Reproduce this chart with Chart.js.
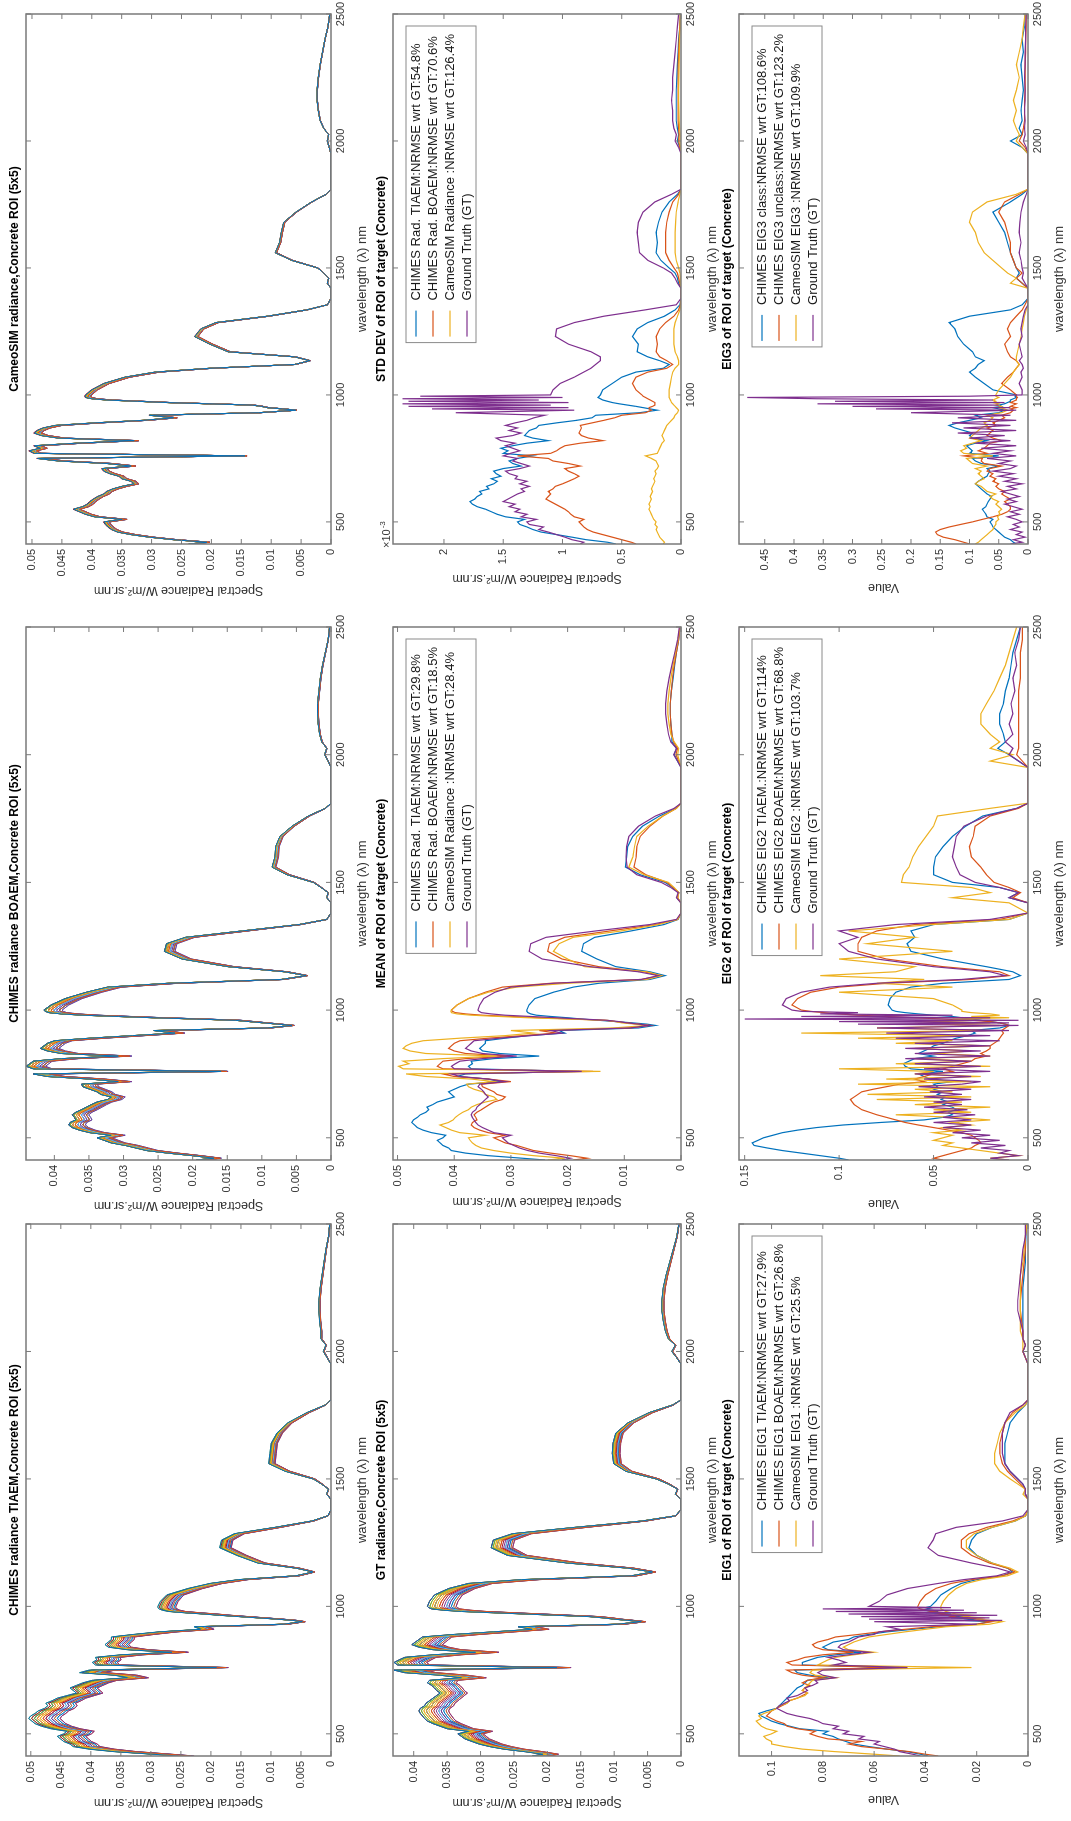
<!DOCTYPE html>
<html>
<head>
<meta charset="utf-8">
<title>Concrete ROI spectra</title>
<script src="https://cdn.jsdelivr.net/npm/chart.js@4.4.1/dist/chart.umd.min.js"></script>
<style>
  html, body { margin: 0; padding: 0; background: #fff; overflow: hidden; }
  /* the figure is laid out landscape and then turned a quarter turn */
  #figure { position: absolute; left: 0; top: 0; width: 1821px; height: 1071px;
            transform-origin: 0 0; transform: translate(0, 1821px) rotate(-90deg); background: #fff; }
  #figure canvas { position: absolute; }
</style>
</head>
<body>
<div id="figure"></div>
<script>
/* wavelength grid (nm) */
const wl = [
  413, 420, 430, 440, 450, 460, 470, 480, 490, 500,
  510, 520, 530, 540, 550, 560, 570, 580, 590, 600,
  610, 620, 630, 640, 650, 660, 670, 680, 690, 700,
  710, 720, 730, 740, 750, 760, 770, 780, 790, 800,
  810, 820, 830, 840, 850, 860, 870, 880, 890, 900,
  910, 920, 930, 940, 945, 950, 955, 960, 965, 970,
  975, 980, 985, 990, 995, 1000, 1020, 1045, 1070, 1090,
  1105, 1120, 1135, 1150, 1170, 1200, 1230, 1260, 1285, 1310,
  1335, 1355, 1380, 1420, 1440, 1460, 1480, 1500, 1530, 1560,
  1600, 1640, 1680, 1720, 1760, 1790, 1810, 1850, 1900, 1950,
  1975, 2000, 2025, 2050, 2080, 2120, 2160, 2200, 2250, 2300,
  2350, 2400, 2450, 2500
];
const wlTicks = [500, 1000, 1500, 2000, 2500];

/* MEAN of ROI (W/m2.sr.nm) */
const meanTiaem = [
  .0240,.0280,.0340,.0380,.0405,.0410,.0420,.0425,.0430,.0420,
  .0415,.0440,.0455,.0465,.0470,.0475,.0472,.0465,.0460,.0450,
  .0445,.0448,.0438,.0430,.0415,.0400,.0405,.0410,.0400,.0390,
  .0375,.0320,.0340,.0395,.0380,.0180,.0370,.0375,.0368,.0370,
  .0330,.0250,.0320,.0350,.0355,.0350,.0345,.0345,.0310,.0270,
  .0205,.0215,.0075,.0045,.0060,.0085,.0115,.0145,.0175,.0200,
  .0230,.0255,.0265,.0270,.0272,.0272,.0268,.0258,.0225,.0190,
  .0145,.0055,.0028,.0055,.0115,.0148,.0175,.0172,.0152,.0088,
  .0030,.0005,0,0,.0007,.0004,.0015,.0028,.0072,.0098,
  .0096,.0094,.0085,.0068,.0038,.0009,0,0,0,0,
  .0006,.0012,.0008,.0016,.0016,.0018,.0019,.0019,.0017,.0014,
  .0011,.0008,.0004,.0002
];
const meanBoaem = [
  .0190,.0165,.0195,.0230,.0260,.0275,.0290,.0310,.0320,.0330,
  .0310,.0340,.0355,.0365,.0370,.0368,.0360,.0362,.0365,.0360,
  .0352,.0345,.0338,.0330,.0315,.0310,.0325,.0330,.0340,.0350,
  .0352,.0300,.0340,.0400,.0420,.0155,.0420,.0430,.0425,.0420,
  .0380,.0300,.0380,.0400,.0410,.0405,.0400,.0390,.0340,.0280,
  .0220,.0250,.0090,.0055,.0075,.0095,.0115,.0135,.0190,.0250,
  .0300,.0350,.0380,.0398,.0403,.0405,.0395,.0375,.0345,.0315,
  .0230,.0070,.0035,.0065,.0145,.0210,.0235,.0232,.0205,.0125,
  .0045,.0006,0,0,.0006,.0004,.0014,.0025,.0062,.0083,
  .0079,.0078,.0072,.0055,.0032,.0008,0,0,0,0,
  .0004,.0009,.0006,.0013,.0016,.0018,.0019,.0019,.0017,.0015,
  .0012,.0008,.0004,.0002
];
const meanCameo = [
  .0235,.0205,.0260,.0300,.0330,.0352,.0362,.0368,.0372,.0375,
  .0345,.0390,.0405,.0415,.0425,.0410,.0402,.0398,.0392,.0385,
  .0375,.0370,.0360,.0345,.0325,.0330,.0345,.0350,.0365,.0375,
  .0378,.0330,.0370,.0450,.0485,.0142,.0490,.0498,.0480,.0490,
  .0420,.0325,.0450,.0478,.0490,.0485,.0475,.0455,.0390,.0310,
  .0260,.0300,.0120,.0058,.0080,.0105,.0115,.0130,.0200,.0270,
  .0320,.0370,.0395,.0405,.0406,.0405,.0395,.0375,.0340,.0290,
  .0200,.0060,.0035,.0060,.0170,.0200,.0225,.0215,.0190,.0105,
  .0040,.0006,0,0,.0006,.0004,.0012,.0022,.0065,.0092,
  .0085,.0082,.0078,.0058,.0032,.0008,0,0,0,0,
  .0003,.0006,.0004,.0012,.0018,.0021,.0023,.0023,.0021,.0018,
  .0014,.0010,.0005,.0002
];
const meanGt = [
  .0210,.0195,.0220,.0250,.0270,.0285,.0295,.0305,.0310,.0315,
  .0300,.0330,.0340,.0350,.0358,.0362,.0365,.0368,.0370,.0368,
  .0362,.0360,.0355,.0350,.0345,.0340,.0345,.0348,.0352,.0358,
  .0355,.0310,.0340,.0390,.0405,.0175,.0400,.0405,.0398,.0390,
  .0350,.0290,.0350,.0370,.0380,.0375,.0370,.0365,.0320,.0265,
  .0210,.0230,.0090,.0056,.0075,.0095,.0110,.0130,.0175,.0220,
  .0265,.0310,.0335,.0352,.0356,.0358,.0355,.0348,.0328,.0300,
  .0225,.0070,.0040,.0075,.0160,.0245,.0268,.0265,.0238,.0150,
  .0055,.0008,0,0,.0008,.0005,.0018,.0035,.0078,.0095,
  .0097,.0096,.0092,.0075,.0045,.0012,0,0,0,0,
  .0006,.0013,.0008,.0018,.0022,.0025,.0027,.0027,.0025,.0021,
  .0016,.0011,.0006,.0003
];

/* STD DEV of ROI, in units of 1e-3 W/m2.sr.nm */
const stdTiaem = [
  .55,.62,.80,.92,1.05,1.18,1.25,1.30,1.36,1.38,
  1.32,1.48,1.55,1.60,1.65,1.72,1.76,1.78,1.74,1.72,
  1.68,1.70,1.62,1.64,1.58,1.55,1.60,1.52,1.56,1.58,
  1.50,1.35,1.42,1.45,1.38,1.25,1.50,1.46,1.52,1.42,
  1.30,1.12,1.25,1.32,1.30,1.28,1.22,1.20,1.05,.88,
  .75,.72,.35,.20,.26,.32,.38,.45,.52,.58,
  .62,.66,.68,.70,.69,.68,.66,.58,.50,.38,
  .15,.10,.18,.28,.37,.36,.41,.37,.28,.14,
  .05,.01,0,0,.02,.03,.05,.10,.17,.21,
  .20,.21,.19,.16,.10,.03,0,0,0,0,
  .01,.03,.02,.03,.04,.04,.04,.04,.035,.03,
  .025,.02,.01,.005
];
const stdBoaem = [
  .38,.42,.50,.58,.66,.74,.79,.82,.84,.86,
  .82,.90,.93,.95,.98,1.02,1.06,1.10,1.14,1.12,
  1.10,1.12,1.08,1.06,1.00,.95,.90,.86,.90,.95,
  .98,.85,.95,1.08,1.12,1.38,1.10,1.05,1.02,.98,
  .85,.66,.78,.84,.86,.85,.84,.85,.75,.65,
  .56,.50,.30,.25,.27,.27,.24,.22,.22,.22,
  .24,.26,.28,.30,.32,.33,.38,.41,.38,.28,
  .12,.07,.12,.18,.21,.20,.21,.18,.13,.06,
  .02,.005,0,0,.01,.02,.03,.06,.10,.13,
  .13,.13,.12,.10,.07,.02,0,0,0,0,
  .01,.02,.015,.02,.025,.025,.025,.025,.025,.025,
  .02,.015,.01,.005
];
const stdCameo = [
  .15,.14,.16,.18,.19,.20,.21,.20,.22,.21,
  .23,.24,.25,.26,.27,.26,.27,.26,.25,.26,
  .25,.24,.25,.24,.23,.22,.23,.22,.21,.22,
  .20,.19,.20,.21,.25,.30,.20,.19,.18,.17,
  .16,.14,.15,.16,.15,.14,.13,.12,.10,.08,
  .06,.05,.03,.02,.03,.04,.05,.06,.07,.08,
  .085,.09,.095,.10,.10,.10,.10,.09,.08,.07,
  .05,.02,.02,.03,.05,.06,.06,.06,.05,.03,
  .01,0,0,0,.005,.005,.01,.02,.04,.05,
  .05,.05,.045,.04,.025,.01,0,0,0,0,
  .005,.01,.008,.012,.015,.018,.02,.02,.018,.016,
  .014,.012,.008,.005
];
const stdGt = [
  .85,.82,.92,.98,1.05,1.12,1.20,1.16,1.28,1.30,
  1.22,1.35,1.30,1.40,1.36,1.45,1.40,1.50,1.46,1.42,
  1.38,1.32,1.35,1.28,1.36,1.30,1.40,1.38,1.45,1.48,
  1.36,1.28,1.35,1.42,1.38,1.50,1.44,1.36,1.42,1.48,
  1.40,1.52,1.56,1.42,1.35,1.45,1.38,1.48,1.40,1.30,
  1.24,1.15,1.90,.90,2.10,.95,2.30,1.10,2.35,.95,
  2.30,1.20,2.35,1.00,2.20,1.10,1.08,1.02,.90,.82,
  .76,.72,.68,.68,.76,.95,1.06,1.05,.90,.65,
  .30,.04,0,0,.03,.05,.08,.15,.28,.35,
  .36,.37,.36,.32,.22,.08,0,0,0,0,
  .02,.05,.04,.06,.07,.07,.08,.07,.07,.06,
  .05,.04,.03,.02
];

/* first eigenvector */
const eig1Tiaem = [
  .039,.042,.047,.055,.062,.068,.071,.074,.076,.080,
  .078,.089,.093,.097,.100,.102,.104,.105,.102,.098,
  .097,.096,.095,.094,.093,.092,.091,.090,.088,.087,
  .086,.078,.085,.090,.091,.050,.088,.088,.085,.082,
  .075,.065,.078,.080,.078,.076,.070,.068,.062,.055,
  .045,.035,.020,.015,.025,.020,.030,.025,.035,.030,
  .040,.035,.042,.038,.040,.038,.036,.034,.030,.026,
  .020,.010,.006,.008,.014,.020,.023,.022,.020,.014,
  .005,.001,0,0,.001,.001,.002,.004,.007,.009,
  .009,.009,.008,.007,.004,.001,0,0,0,0,
  .001,.002,.001,.002,.002,.002,.002,.002,.002,.0015,
  .001,.001,.0008,.0005
];
const eig1Boaem = [
  .035,.040,.046,.055,.065,.070,.065,.078,.082,.085,
  .083,.090,.094,.095,.098,.100,.102,.101,.100,.098,
  .096,.094,.093,.090,.088,.086,.088,.087,.085,.088,
  .086,.080,.088,.092,.094,.052,.092,.094,.090,.087,
  .080,.068,.080,.083,.084,.082,.078,.075,.066,.058,
  .048,.038,.020,.014,.020,.018,.025,.030,.028,.035,
  .032,.038,.040,.042,.043,.043,.042,.040,.036,.030,
  .022,.010,.005,.008,.015,.022,.026,.026,.023,.016,
  .006,.001,0,0,.001,.001,.003,.005,.008,.010,
  .011,.011,.010,.009,.006,.002,0,0,0,0,
  .001,.002,.001,.002,.002,.0025,.003,.003,.0025,.002,
  .0015,.001,.001,.0005
];
const eig1Cameo = [
  .050,.060,.075,.088,.095,.100,.100,.102,.103,.100,
  .098,.102,.104,.105,.106,.104,.105,.103,.100,.098,
  .097,.094,.093,.090,.087,.086,.088,.087,.086,.085,
  .084,.075,.083,.085,.084,.022,.082,.080,.078,.075,
  .068,.060,.070,.072,.070,.068,.065,.062,.055,.048,
  .040,.032,.015,.010,.015,.020,.018,.025,.022,.028,
  .030,.032,.033,.034,.034,.034,.033,.031,.028,.024,
  .018,.008,.004,.007,.014,.020,.024,.024,.021,.014,
  .005,.001,0,0,.002,.001,.004,.007,.011,.013,
  .013,.012,.011,.009,.005,.001,0,0,0,0,
  .001,.002,.002,.002,.003,.003,.003,.003,.003,.003,
  .002,.0015,.001,.0005
];
const eig1Gt = [
  .042,.045,.050,.052,.056,.060,.058,.066,.064,.072,
  .070,.076,.074,.080,.082,.085,.090,.094,.096,.098,
  .097,.095,.093,.094,.090,.088,.086,.087,.084,.082,
  .083,.075,.080,.082,.080,.047,.076,.071,.074,.078,
  .070,.062,.072,.074,.073,.070,.068,.066,.060,.058,
  .050,.055,.020,.060,.010,.062,.015,.065,.012,.070,
  .020,.075,.025,.080,.030,.062,.058,.055,.047,.035,
  .025,.012,.007,.012,.022,.035,.039,.037,.036,.028,
  .010,.002,0,0,.001,.001,.002,.004,.007,.009,
  .010,.010,.010,.009,.007,.002,0,0,0,0,
  .001,.002,.001,.002,.002,.003,.004,.004,.0035,.003,
  .0025,.002,.001,.001
];

/* second eigenvector */
const eig2Tiaem = [
  .095,.100,.110,.120,.130,.138,.145,.146,.143,.140,
  .135,.130,.122,.112,.098,.078,.055,.045,.040,.042,
  .038,.040,.045,.042,.046,.044,.048,.045,.050,.048,
  .050,.040,.052,.055,.058,.045,.062,.065,.066,.063,
  .060,.050,.058,.055,.052,.050,.045,.042,.038,.032,
  .028,.030,.015,.010,.012,.015,.020,.025,.030,.035,
  .040,.050,.058,.065,.070,.072,.074,.073,.070,.062,
  .045,.010,.004,.008,.022,.045,.062,.064,.060,.062,
  .050,.010,0,0,.010,.005,.015,.040,.050,.050,
  .049,.045,.040,.033,.024,.006,0,0,0,0,
  .005,.010,.016,.012,.013,.015,.015,.013,.012,.010,
  .009,.008,.006,.004
];
const eig2Boaem = [
  .045,.050,.045,.040,.035,.030,.028,.025,.026,.028,
  .030,.035,.042,.050,.058,.065,.070,.075,.080,.084,
  .088,.090,.092,.093,.094,.092,.090,.088,.082,.075,
  .068,.055,.060,.055,.050,.040,.045,.040,.035,.030,
  .028,.022,.025,.022,.020,.020,.018,.016,.015,.014,
  .013,.014,.012,.010,.012,.015,.020,.030,.045,.060,
  .075,.090,.100,.108,.115,.120,.125,.122,.115,.100,
  .075,.030,.010,.015,.045,.075,.090,.090,.088,.080,
  .060,.015,0,0,.008,.004,.010,.018,.022,.025,
  .030,.031,.029,.028,.020,.005,0,0,0,0,
  .003,.006,.005,.005,.005,.005,.005,.005,.005,.004,
  .004,.004,.003,.003
];
const eig2Cameo = [
  .010,.020,.005,.015,.025,.035,.045,.040,.050,.045,
  .040,.050,.035,.045,.030,.040,.020,.040,.070,.030,
  .050,.020,.060,.035,.080,.030,.085,.040,.060,.020,
  .090,.030,.075,.025,.060,.050,.100,.020,.070,.030,
  .060,.020,.050,.030,.060,.020,.070,.040,.090,.030,
  .120,.020,.080,.015,.050,.020,.060,.025,.040,.010,
  .030,.015,.020,.030,.035,.035,.040,.050,.100,.040,
  .080,.055,.110,.070,.060,.100,.040,.085,.060,.095,
  .050,.010,0,.010,.040,.020,.030,.067,.066,.063,
  .061,.058,.054,.050,.048,.020,0,0,0,0,
  .020,.008,.020,.015,.020,.025,.025,.022,.018,.015,
  .012,.010,.008,.006
];
const eig2Gt = [
  .010,.020,.005,.015,.010,.025,.012,.030,.015,.035,
  .020,.040,.025,.045,.030,.050,.030,.045,.028,.050,
  .032,.055,.035,.050,.030,.055,.035,.052,.030,.058,
  .035,.025,.055,.030,.060,.020,.055,.025,.060,.030,
  .065,.020,.060,.025,.065,.020,.060,.015,.070,.020,
  .075,.010,.080,.005,.090,.010,.100,.005,.150,.020,
  .120,.040,.110,.090,.120,.125,.130,.128,.120,.105,
  .080,.035,.012,.020,.050,.080,.095,.100,.090,.100,
  .070,.020,0,0,.010,.005,.015,.028,.036,.038,
  .040,.039,.038,.034,.022,.006,0,0,0,0,
  .005,.010,.008,.012,.008,.010,.008,.009,.007,.008,
  .006,.007,.005,.004
];

/* third eigenvector */
const eig3Class = [
  .020,.025,.030,.040,.045,.050,.055,.060,.062,.065,
  .060,.070,.072,.075,.078,.072,.070,.068,.065,.062,
  .070,.075,.080,.085,.090,.085,.078,.070,.068,.065,
  .070,.050,.080,.090,.095,.050,.100,.095,.100,.105,
  .090,.070,.095,.100,.095,.110,.125,.135,.120,.100,
  .080,.090,.050,.040,.050,.060,.045,.050,.040,.035,
  .030,.030,.025,.020,.022,.020,.060,.075,.090,.100,
  .090,.085,.075,.090,.095,.110,.120,.125,.135,.100,
  .030,.010,0,0,.010,.020,.015,.020,.025,.030,
  .035,.040,.050,.060,.030,.010,0,0,0,0,
  .010,.030,.010,.015,.010,.012,.010,.008,.010,.012,
  .008,.010,.006,.005
];
const eig3Unclass = [
  .100,.110,.125,.145,.155,.158,.150,.135,.115,.095,
  .078,.060,.045,.035,.030,.030,.035,.040,.030,.038,
  .045,.040,.050,.055,.050,.060,.055,.065,.060,.070,
  .065,.045,.075,.080,.078,.110,.070,.085,.075,.070,
  .065,.045,.060,.070,.065,.060,.070,.055,.060,.050,
  .040,.045,.030,.025,.030,.020,.030,.025,.020,.030,
  .025,.020,.020,.018,.020,.020,.030,.045,.035,.025,
  .020,.015,.020,.030,.035,.040,.030,.035,.030,.020,
  .010,.005,0,0,.010,.020,.010,.020,.025,.030,
  .030,.035,.040,.050,.040,.015,0,0,0,0,
  .005,.015,.010,.008,.006,.006,.006,.005,.005,.005,
  .004,.004,.003,.003
];
const eig3Cameo = [
  .090,.085,.080,.075,.070,.065,.060,.058,.055,.055,
  .050,.052,.048,.050,.045,.050,.055,.050,.060,.065,
  .055,.070,.075,.080,.090,.085,.075,.080,.085,.080,
  .090,.070,.095,.100,.105,.060,.110,.115,.105,.110,
  .095,.080,.100,.095,.090,.085,.080,.070,.075,.065,
  .060,.070,.045,.035,.040,.050,.045,.055,.050,.060,
  .055,.060,.055,.050,.055,.055,.050,.040,.030,.025,
  .020,.015,.020,.020,.018,.015,.012,.010,.008,.006,
  .003,0,0,0,.030,.020,.035,.045,.060,.075,
  .085,.090,.100,.095,.070,.020,0,0,0,0,
  .010,.020,.015,.020,.025,.020,.025,.020,.015,.020,
  .015,.010,.008,.005
];
const eig3Gt = [
  .030,.010,.025,.005,.020,.010,.030,.015,.025,.010,
  .020,.035,.015,.030,.010,.025,.040,.020,.035,.015,
  .030,.045,.020,.035,.010,.040,.020,.050,.025,.060,
  .030,.020,.050,.030,.070,.020,.060,.030,.080,.020,
  .090,.030,.100,.040,.120,.020,.110,.030,.130,.020,
  .120,.030,.200,.020,.260,.030,.300,.050,.360,.040,
  .330,.060,.360,.480,.100,.010,.010,.015,.010,.012,
  .008,.010,.015,.010,.012,.015,.010,.012,.010,.008,
  .005,0,0,0,.005,.010,.008,.010,.012,.015,
  .012,.015,.014,.012,.008,.003,0,0,0,0,
  .003,.008,.005,.006,.005,.006,.005,.005,.006,.005,
  .005,.004,.004,.003
];

/* gain of each of the 25 pixels of the 5x5 ROI against the ROI mean */
const roiGainTiaem = [1.06,0.97,1.02,0.95,1.04,0.99,1.05,0.96,1.01,1.03,0.98,1.06,0.97,1.00,1.04,0.95,1.02,0.99,1.05,0.96,1.03,0.98,1.01,1.04,1.00];
const roiGainBoaem = [1.025,0.97,1.01,0.96,1.02,0.99,1.025,0.97,1.00,1.02,0.98,1.025,0.96,1.01,1.02,0.97,1.00,0.99,1.025,0.98,1.01,0.97,1.02,1.00,0.99];
const roiGainCameo = [1.012,0.99,1.005,0.988,1.01,0.995,1.015,0.99,1.0,1.008,0.992,1.012,0.99,1.003,1.01,0.988,1.005,0.997,1.012,0.99,1.006,0.994,1.0,1.01,0.998];
const roiGainGt = [1.06,0.95,1.03,0.94,1.05,0.98,1.06,0.96,1.01,1.04,0.97,1.05,0.95,1.00,1.03,0.94,1.02,0.98,1.06,0.96,1.03,0.97,1.01,1.04,0.99];

/* legend texts */
const meanLabels = ['CHIMES Rad. TIAEM:NRMSE wrt GT:29.8%', 'CHIMES Rad. BOAEM:NRMSE wrt GT:18.5%', 'CameoSIM Radiance :NRMSE wrt GT:28.4%', 'Ground Truth (GT)'];
const stdLabels = ['CHIMES Rad. TIAEM:NRMSE wrt GT:54.8%', 'CHIMES Rad. BOAEM:NRMSE wrt GT:70.6%', 'CameoSIM Radiance :NRMSE wrt GT:126.4%', 'Ground Truth (GT)'];
const eig1Labels = ['CHIMES EIG1 TIAEM:NRMSE wrt GT:27.9%', 'CHIMES EIG1 BOAEM:NRMSE wrt GT:26.8%', 'CameoSIM EIG1 :NRMSE wrt GT:25.5%', 'Ground Truth (GT)'];
const eig2Labels = ['CHIMES EIG2 TIAEM.:NRMSE wrt GT:114%', 'CHIMES EIG2 BOAEM:NRMSE wrt GT:68.8%', 'CameoSIM EIG2 :NRMSE wrt GT:103.7%', 'Ground Truth (GT)'];
const eig3Labels = ['CHIMES EIG3 class:NRMSE wrt GT:108.6%', 'CHIMES EIG3 unclass:NRMSE wrt GT:123.2%', 'CameoSIM EIG3 :NRMSE wrt GT:109.9%', 'Ground Truth (GT)'];

/* y tick values */
const radTicks05 = [0, 0.005, 0.01, 0.015, 0.02, 0.025, 0.03, 0.035, 0.04, 0.045, 0.05];
const radTicks04 = [0, 0.005, 0.01, 0.015, 0.02, 0.025, 0.03, 0.035, 0.04];
const meanTicks = [0, 0.01, 0.02, 0.03, 0.04, 0.05];
const stdTicks = [0, 0.5, 1, 1.5, 2];
const eig1Ticks = [0, 0.02, 0.04, 0.06, 0.08, 0.1];
const eig2Ticks = [0, 0.05, 0.1, 0.15];
const eig3Ticks = [0, 0.05, 0.1, 0.15, 0.2, 0.25, 0.3, 0.35, 0.4, 0.45];

const COLORS = ['#0072BD', '#D95319', '#EDB120', '#7E2F8E', '#77AC30', '#4DBEEE', '#A2142F'];
const FONT = '"Liberation Sans", Arial, Helvetica, sans-serif';
const AXIS = '#7a7a7a';
const TEXT = '#333333';
const RAD = 'Spectral Radiance W/m\u00b2.sr.nm';

Chart.defaults.font.family = FONT;
Chart.defaults.color = TEXT;

// plot boxes of the 3x3 grid, figure pixels
const colLeft = [65, 661, 1277];
const colWidth = [532, 533, 530];
const rowTop = [26, 393, 739];
const rowHeight = [305, 288, 289];
const PAD_L = 60, PAD_T = 30, PAD_R = 20, PAD_B = 45;

// comparison plots: later series drawn over earlier ones
function compareSets(list) {
  return list.map((values, i) => ({
    data: wl.map((x, k) => ({x: x, y: values[k]})),
    borderColor: COLORS[i], borderWidth: 1.2, pointRadius: 0, tension: 0,
    order: list.length - i
  }));
}

// 25 pixel spectra of the ROI, first (blue) one ends up on top
function roiSets(mean, gains) {
  return gains.map((g, i) => ({
    data: wl.map((x, k) => ({x: x, y: mean[k] * g})),
    borderColor: COLORS[i % 7], borderWidth: 1, pointRadius: 0, tension: 0,
    order: i
  }));
}

const panels = [
  {row: 0, col: 0, title: 'CHIMES radiance TIAEM,Concrete ROI (5x5)', yMax: 0.0508, yTicks: radTicks05, yTitle: RAD, gap: 46, sets: roiSets(meanTiaem, roiGainTiaem)},
  {row: 0, col: 1, title: 'CHIMES radiance BOAEM,Concrete ROI (5x5)', yMax: 0.0441, yTicks: radTicks04, yTitle: RAD, gap: 45, sets: roiSets(meanBoaem, roiGainBoaem)},
  {row: 0, col: 2, title: 'CameoSIM radiance,Concrete ROI (5x5)', yMax: 0.0510, yTicks: radTicks05, yTitle: RAD, gap: 46, sets: roiSets(meanCameo, roiGainCameo)},
  {row: 1, col: 0, title: 'GT radiance,Concrete ROI (5x5)', yMax: 0.0431, yTicks: radTicks04, yTitle: RAD, gap: 46, sets: roiSets(meanGt, roiGainGt)},
  {row: 1, col: 1, title: 'MEAN of ROI of target (Concrete)', yMax: 0.0508, yTicks: meanTicks, yTitle: RAD, gap: 41, legend: meanLabels,
   sets: compareSets([meanTiaem, meanBoaem, meanCameo, meanGt])},
  {row: 1, col: 2, title: 'STD DEV of ROI of target (Concrete)', yMax: 2.43, yTicks: stdTicks, yTitle: RAD, gap: 34, legend: stdLabels, exponent: '-3',
   sets: compareSets([stdTiaem, stdBoaem, stdCameo, stdGt])},
  {row: 2, col: 0, title: 'EIG1 of ROI of target (Concrete)', yMax: 0.1127, yTicks: eig1Ticks, yTitle: 'Value', gap: 43, legend: eig1Labels,
   sets: compareSets([eig1Tiaem, eig1Boaem, eig1Cameo, eig1Gt])},
  {row: 2, col: 1, title: 'EIG2 of ROI of target (Concrete)', yMax: 0.153, yTicks: eig2Ticks, yTitle: 'Value', gap: 43, legend: eig2Labels,
   sets: compareSets([eig2Tiaem, eig2Boaem, eig2Cameo, eig2Gt])},
  {row: 2, col: 2, title: 'EIG3 of ROI of target (Concrete)', yMax: 0.494, yTicks: eig3Ticks, yTitle: 'Value', gap: 43, legend: eig3Labels,
   sets: compareSets([eig3Class, eig3Unclass, eig3Cameo, eig3Gt])}
];

// box, inward ticks on all four sides, title, legend box and exponent, drawn like a MATLAB axes
function matlabAxes(p) {
  return {
    id: 'matlabAxes',
    afterDraw(chart) {
      const ctx = chart.ctx;
      const a = chart.chartArea;
      const sx = chart.scales.x, sy = chart.scales.y;
      ctx.save();
      ctx.strokeStyle = AXIS;
      ctx.lineWidth = 1;
      ctx.beginPath();
      sx.ticks.forEach(t => {
        const px = sx.getPixelForValue(t.value);
        ctx.moveTo(px, a.bottom); ctx.lineTo(px, a.bottom - 5);
        ctx.moveTo(px, a.top); ctx.lineTo(px, a.top + 5);
      });
      sy.ticks.forEach(t => {
        const py = sy.getPixelForValue(t.value);
        ctx.moveTo(a.left, py); ctx.lineTo(a.left + 5, py);
        ctx.moveTo(a.right, py); ctx.lineTo(a.right - 5, py);
      });
      ctx.stroke();
      ctx.lineWidth = 1.5;
      ctx.strokeRect(a.left, a.top, a.right - a.left, a.bottom - a.top);

      ctx.fillStyle = '#000';
      ctx.font = 'bold 12px ' + FONT;
      ctx.textAlign = 'center';
      ctx.textBaseline = 'middle';
      ctx.fillText(p.title, (a.left + a.right) / 2, a.top - 11);

      if (p.exponent) {
        ctx.fillStyle = TEXT;
        ctx.textAlign = 'left';
        ctx.textBaseline = 'alphabetic';
        ctx.font = '11px ' + FONT;
        ctx.fillText('\u00d710', a.left - 4, a.top - 3);
        const w = ctx.measureText('\u00d710').width;
        ctx.font = '8px ' + FONT;
        ctx.fillText(p.exponent, a.left - 3 + w, a.top - 8);
      }

      if (p.legend) {
        ctx.font = '13px ' + FONT;
        const tw = Math.max(...p.legend.map(s => ctx.measureText(s).width));
        const w = tw + 50, h = p.legend.length * 17 + 2;
        const lx = a.right - 12 - w, ly = a.top + 13;
        ctx.fillStyle = '#fff';
        ctx.fillRect(lx, ly, w, h);
        ctx.strokeStyle = '#8a8a8a';
        ctx.lineWidth = 1;
        ctx.strokeRect(lx, ly, w, h);
        ctx.textAlign = 'left';
        ctx.textBaseline = 'middle';
        p.legend.forEach((s, i) => {
          const cy = ly + 10 + i * 17;
          ctx.strokeStyle = COLORS[i];
          ctx.lineWidth = 1.2;
          ctx.beginPath(); ctx.moveTo(lx + 6, cy); ctx.lineTo(lx + 32, cy); ctx.stroke();
          ctx.fillStyle = '#1a1a1a';
          ctx.fillText(s, lx + 42, cy);
        });
      }
      ctx.restore();
    }
  };
}

const fig = document.getElementById('figure');

panels.forEach(p => {
  const w = colWidth[p.col], h = rowHeight[p.row];
  const cv = document.createElement('canvas');
  cv.width = w + PAD_L + PAD_R;
  cv.height = h + PAD_T + PAD_B;
  cv.style.left = (colLeft[p.col] - PAD_L) + 'px';
  cv.style.top = (rowTop[p.row] - PAD_T) + 'px';
  fig.appendChild(cv);

  new Chart(cv, {
    type: 'line',
    data: { datasets: p.sets },
    options: {
      responsive: false,
      animation: false,
      devicePixelRatio: 1,
      layout: { padding: { left: 0, top: PAD_T, right: PAD_R, bottom: 0 } },
      plugins: { legend: { display: false }, tooltip: { enabled: false } },
      scales: {
        x: {
          type: 'linear', min: 413, max: 2500,
          afterBuildTicks: s => { s.ticks = wlTicks.map(v => ({value: v})); },
          afterFit: s => { s.height = PAD_B; },
          grid: { display: false, drawTicks: false },
          border: { display: false },
          ticks: { padding: 3, autoSkip: false, maxRotation: 0, font: { size: 11 }, color: TEXT, callback: v => String(v) },
          title: { display: true, text: 'wavelength (\u03bb) nm', font: { size: 13 }, color: TEXT, padding: { top: 0, bottom: 6 } }
        },
        y: {
          type: 'linear', min: 0, max: p.yMax,
          afterBuildTicks: s => { s.ticks = p.yTicks.map(v => ({value: v})); },
          afterFit: s => { s.width = PAD_L; },
          grid: { display: false, drawTicks: false },
          border: { display: false },
          ticks: { padding: 5, autoSkip: false, font: { size: 11 }, color: TEXT, callback: v => String(v) },
          title: { display: true, text: p.yTitle, font: { size: 12.5 }, color: TEXT, padding: { top: 52.5 - p.gap, bottom: 0 } }
        }
      }
    },
    plugins: [matlabAxes(p)]
  });
});
</script>
</body>
</html>
